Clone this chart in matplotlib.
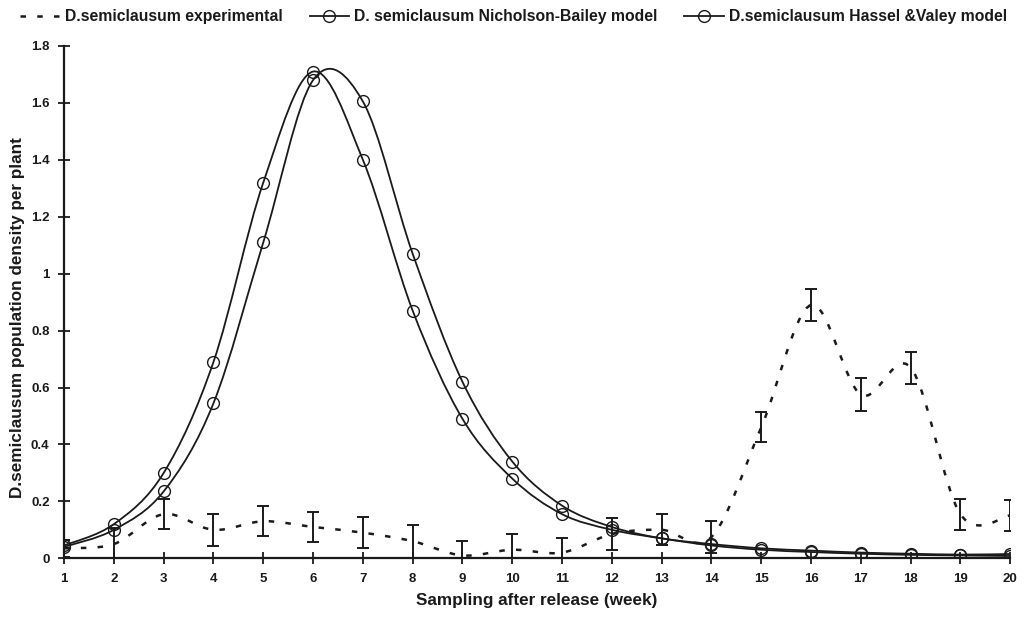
import numpy as np
import matplotlib
matplotlib.use("Agg")
import matplotlib.pyplot as plt
from matplotlib.path import Path
from matplotlib.patches import PathPatch
from matplotlib.lines import Line2D

plt.rcParams['font.family'] = ['Liberation Sans', 'DejaVu Sans']
plt.rcParams['font.weight'] = 'bold'

# sampling week
weeks = np.arange(1, 21)

# experimental means and error (+/-)
exp_mean = [0.035, 0.05, 0.155, 0.10, 0.13, 0.11, 0.09, 0.06, 0.01, 0.03,
            0.02, 0.085, 0.10, 0.075, 0.46, 0.89, 0.575, 0.67, 0.155, 0.15]
exp_err = [0.03, 0.055, 0.053, 0.057, 0.053, 0.053, 0.055, 0.058, 0.05, 0.055,
           0.05, 0.055, 0.054, 0.055, 0.053, 0.055, 0.057, 0.056, 0.054, 0.055]

# model curves
nb_model = [0.045, 0.12, 0.30, 0.69, 1.32, 1.71, 1.40, 0.87, 0.49, 0.28,
            0.155, 0.10, 0.07, 0.045, 0.03, 0.022, 0.016, 0.012, 0.01, 0.008]
hv_model = [0.04, 0.10, 0.235, 0.545, 1.11, 1.68, 1.605, 1.07, 0.62, 0.34,
            0.185, 0.11, 0.07, 0.05, 0.035, 0.027, 0.02, 0.016, 0.013, 0.015]

labels = ['D.semiclausum experimental',
          'D. semiclausum Nicholson-Bailey model',
          'D.semiclausum Hassel &Valey model']

ink = '#1a1a1a'
dash = (0, (2.2, 4.5))


def smooth_path(x, y):
    # excel-like smoothed line: bezier segments with catmull-rom handles
    pts = np.column_stack([x, y]).astype(float)
    verts = [pts[0]]
    codes = [Path.MOVETO]
    n = len(pts)
    for i in range(n - 1):
        p0 = pts[max(i - 1, 0)]
        p1 = pts[i]
        p2 = pts[i + 1]
        p3 = pts[min(i + 2, n - 1)]
        verts += [p1 + (p2 - p0) / 6, p2 - (p3 - p1) / 6, p2]
        codes += [Path.CURVE4] * 3
    return Path(verts, codes)


fig = plt.figure(figsize=(10.34, 6.21), dpi=100)
ax = fig.add_axes([0.062, 0.101, 0.915, 0.825])

# experimental dashed line + error bars
ax.add_patch(PathPatch(smooth_path(weeks, exp_mean), fill=False, ec=ink,
                       lw=1.8, ls=dash))
ax.errorbar(weeks, exp_mean, yerr=exp_err, fmt='none', ecolor=ink,
            elinewidth=1.4, capsize=4, capthick=1.4)

for model in [nb_model, hv_model]:
    ax.add_patch(PathPatch(smooth_path(weeks, model), fill=False, ec=ink, lw=1.3))
    ax.plot(weeks, model, 'o', ms=8.5, mfc='none', mec=ink, mew=1.0, ls='none')

ax.set_xlim(1, 20)
ax.set_ylim(0, 1.8)
ax.set_xticks(weeks)
ax.set_yticks(np.arange(0, 1.81, 0.2))
ax.yaxis.set_major_formatter(plt.FuncFormatter(lambda v, p: '%g' % round(v, 1)))
ax.tick_params(direction='inout', length=9, width=1.3, colors=ink,
               labelsize=9.5, pad=6)
for s in ['top', 'right']:
    ax.spines[s].set_visible(False)
for s in ['left', 'bottom']:
    ax.spines[s].set_linewidth(1.6)
    ax.spines[s].set_color(ink)

ax.set_xlabel('Sampling after release (week)', fontsize=12.3, fontweight='bold',
              color=ink, labelpad=6)
ax.set_ylabel('D.semiclausum population density per plant', fontsize=12.3,
              fontweight='bold', color=ink)
ax.yaxis.set_label_coords(-0.041, 0.469)

handles = [Line2D([], [], color=ink, lw=1.8, ls=dash),
           Line2D([], [], color=ink, lw=1.3, marker='o', ms=8.5, mfc='none', mec=ink),
           Line2D([], [], color=ink, lw=1.3, marker='o', ms=8.5, mfc='none', mec=ink)]
fig.legend(handles, labels, loc='center', bbox_to_anchor=(0.497, 0.973), ncol=3,
           frameon=False, fontsize=11.3, handlelength=2.5, columnspacing=1.7,
           handletextpad=0.35, labelcolor=ink)

fig.savefig('out.png', dpi=100, facecolor='white')
